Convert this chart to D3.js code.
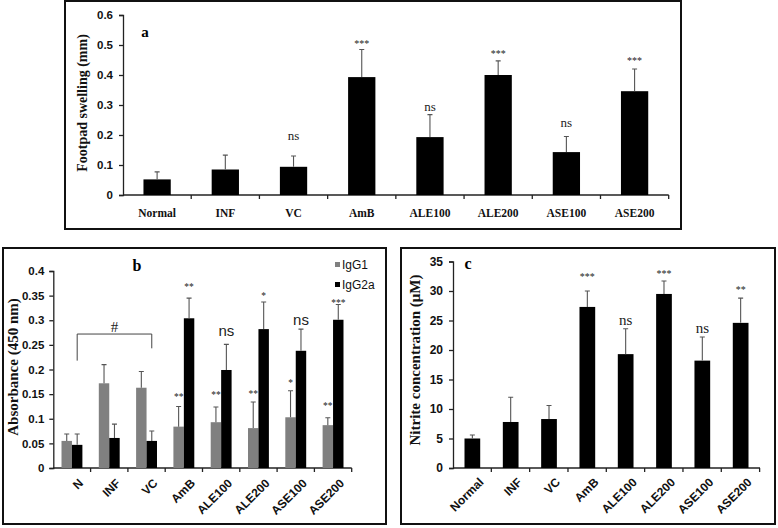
<!DOCTYPE html>
<html><head><meta charset="utf-8">
<script src="https://cdn.jsdelivr.net/npm/d3@7"></script>
<style>body{margin:0;background:#fff}svg{display:block}</style>
</head><body>
<svg id="chart" width="778" height="528"></svg>
<script>
// ---------- DATA ----------
const catsA = ["Normal","INF","VC","AmB","ALE100","ALE200","ASE100","ASE200"];
const swelling = [0.052,0.085,0.094,0.393,0.193,0.400,0.143,0.346];
const swellingErr = [0.025,0.048,0.036,0.092,0.075,0.047,0.052,0.074];
const annotA = ["","","ns","***","ns","***","ns","***"];
const annotALevel = [null,null,0.194,0.511,0.292,0.476,0.236,0.453];
const ticksA = [0,0.1,0.2,0.3,0.4,0.5,0.6];

const catsB = ["N","INF","VC","AmB","ALE100","ALE200","ASE100","ASE200"];
const seriesB = ["IgG1","IgG2a"];
const igg1 = [0.055,0.172,0.163,0.084,0.093,0.081,0.103,0.087];
const igg1Err = [0.014,0.038,0.033,0.041,0.031,0.053,0.054,0.015];
const igg2a = [0.047,0.061,0.055,0.304,0.199,0.282,0.238,0.301];
const igg2aErr = [0.022,0.028,0.020,0.041,0.052,0.055,0.044,0.031];
const annotIgg1 = ["","","","**","**","**","*","**"];
const annotIgg1Level = [null,null,null,0.148,0.153,0.155,0.177,0.129];
const annotIgg2a = ["","","","**","ns","*","ns","***"];
const annotIgg2aLevel = [null,null,null,0.3705,0.276,0.354,0.297,0.339];
const bracketB = {from:"N", to:"VC", top:0.272, leftEnd:0.218, rightEnd:0.243, label:"#", labelLevel:0.2866};
const ticksB = [0,0.05,0.1,0.15,0.2,0.25,0.3,0.35,0.4];

const catsC = ["Normal","INF","VC","AmB","ALE100","ALE200","ASE100","ASE200"];
const nitrite = [5.0,7.8,8.3,27.3,19.3,29.5,18.2,24.6];
const nitriteErr = [0.6,4.2,2.3,2.7,4.3,2.2,4.0,4.2];
const annotC = ["","","","***","ns","***","ns","**"];
const annotCLevel = [null,null,null,32.7,24.9,33.2,23.6,30.6];
const ticksC = [0,5,10,15,20,25,30,35];

// ---------- STYLE ----------
const SERIF = "'Liberation Serif','Times New Roman',serif";
const SANS = "'Liberation Sans',Arial,sans-serif";
const svg = d3.select("#chart");

function box(x0,y0,x1,y1){
  svg.append("rect").attr("x",x0).attr("y",y0).attr("width",x1-x0).attr("height",y1-y0)
    .attr("fill","none").attr("stroke","#111").attr("stroke-width",2);
}

function yAxis(g, y, ticks, x0, fs, fmt, tickGap){
  const ax = d3.axisLeft(y).tickValues(ticks).tickSize(4).tickPadding(tickGap).tickFormat(fmt);
  const a = g.append("g").attr("transform",`translate(${x0},0)`).call(ax);
  a.select(".domain").attr("stroke","#222").attr("stroke-width",1.3);
  a.selectAll(".tick line").attr("stroke","#222").attr("stroke-width",1.3);
  a.selectAll("text").attr("font-family",SANS).attr("font-weight","bold").attr("font-size",fs).attr("fill","#111");
  return a;
}

function xAxisLine(g, x, cats, y0){
  const r = x.range();
  g.append("line").attr("x1",r[0]).attr("x2",r[1]).attr("y1",y0).attr("y2",y0)
    .attr("stroke","#222").attr("stroke-width",1.3);
  const step = x.step();
  const bounds = d3.range(1, cats.length+1).map(i => r[0] + i*step);
  g.selectAll(".xt").data(bounds).join("line")
    .attr("x1",d=>d).attr("x2",d=>d).attr("y1",y0).attr("y2",y0+4)
    .attr("stroke","#222").attr("stroke-width",1.3);
}

function errBars(g, xs, tops, bases, y){
  g.selectAll(null).data(xs.map((x,i)=>({x, t:tops[i], b:bases[i]}))).join("path")
    .attr("d", d => `M${d.x},${y(d.b)}V${y(d.t)}M${d.x-2.5},${y(d.t)}h5`)
    .attr("fill","none").attr("stroke","#555").attr("stroke-width",1.1);
}

function annot(g, xs, labels, levels, y, opts){
  labels.forEach((t,i)=>{
    if(!t) return;
    const isStar = t.indexOf("*")>=0;
    const fs = isStar ? opts.starSize : opts.nsSize;
    const off = isStar ? 0.52*fs : 0.25*fs;
    g.append("text").attr("x",xs[i]).attr("y",y(levels[i])+off)
      .attr("text-anchor","middle")
      .attr("font-family", isStar ? SERIF : opts.nsFont)
      .attr("font-size",fs).attr("fill","#222").text(t);
  });
}

// ---------- PANEL A ----------
(function(){
  box(65,1,681,229);
  const g = svg.append("g");
  const x = d3.scaleBand().domain(catsA).range([123,668.7]).paddingInner(0.6).paddingOuter(0.3);
  const y = d3.scaleLinear().domain([0,0.6]).range([195,15]);
  yAxis(g, y, ticksA, 123, 11.5, d3.format(""), 6);
  xAxisLine(g, x, catsA, 195);
  g.selectAll(".bar").data(swelling).join("rect")
    .attr("x",(d,i)=>x(catsA[i])).attr("width",x.bandwidth())
    .attr("y",d=>y(d)).attr("height",d=>y(0)-y(d)).attr("fill","#000");
  const cx = catsA.map(c=>x(c)+x.bandwidth()/2);
  errBars(g, cx, swelling.map((v,i)=>v+swellingErr[i]), swelling, y);
  annot(g, cx, annotA, annotALevel, y, {starSize:10, nsSize:13, nsFont:SERIF});
  g.selectAll(".xl").data(catsA).join("text")
    .attr("x",c=>x(c)+x.bandwidth()/2).attr("y",217).attr("text-anchor","middle")
    .attr("font-family",SERIF).attr("font-weight","bold").attr("font-size",11.5).attr("fill","#111").text(c=>c);
  g.append("text").attr("transform","translate(87,103) rotate(-90)").attr("text-anchor","middle")
    .attr("font-family",SERIF).attr("font-weight","bold").attr("font-size",14).attr("fill","#111")
    .text("Footpad swelling (mm)");
  g.append("text").attr("x",145).attr("y",37).attr("text-anchor","middle")
    .attr("font-family",SERIF).attr("font-weight","bold").attr("font-size",15).text("a");
})();

// ---------- PANEL B ----------
(function(){
  box(3,248,386,524);
  const g = svg.append("g");
  const x = d3.scaleBand().domain(catsB).range([53.3,351.7]).paddingInner(0.44).paddingOuter(0.22);
  const xs = d3.scaleBand().domain(seriesB).range([0,x.bandwidth()]);
  const y = d3.scaleLinear().domain([0,0.4]).range([468,271]);
  const colors = {IgG1:"#808080", IgG2a:"#000"};
  yAxis(g, y, ticksB, 53.3, 11.5, d3.format(""), 5);
  xAxisLine(g, x, catsB, 468);
  const series = {IgG1:{v:igg1,e:igg1Err}, IgG2a:{v:igg2a,e:igg2aErr}};
  seriesB.forEach(s=>{
    const vals = series[s].v, errs = series[s].e;
    g.selectAll(null).data(vals).join("rect")
      .attr("x",(d,i)=>x(catsB[i])+xs(s)).attr("width",xs.bandwidth())
      .attr("y",d=>y(d)).attr("height",d=>y(0)-y(d)).attr("fill",colors[s]);
    const cx = catsB.map(c=>x(c)+xs(s)+xs.bandwidth()/2);
    errBars(g, cx, vals.map((v,i)=>v+errs[i]), vals, y);
  });
  const cx1 = catsB.map(c=>x(c)+xs("IgG1")+xs.bandwidth()/2);
  const cx2 = catsB.map(c=>x(c)+xs("IgG2a")+xs.bandwidth()/2);
  annot(g, cx1, annotIgg1, annotIgg1Level, y, {starSize:9.5, nsSize:15, nsFont:SANS});
  annot(g, cx2, annotIgg2a, annotIgg2aLevel, y, {starSize:9.5, nsSize:15, nsFont:SANS});
  // bracket
  const bx0 = x(bracketB.from)+xs("IgG2a")+xs.bandwidth()/2;
  const bx1 = x(bracketB.to)+xs("IgG2a")+xs.bandwidth()/2;
  g.append("path").attr("d",`M${bx0},${y(bracketB.leftEnd)}V${y(bracketB.top)}H${bx1}V${y(bracketB.rightEnd)}`)
    .attr("fill","none").attr("stroke","#444").attr("stroke-width",1);
  g.append("text").attr("x",(bx0+bx1)/2).attr("y",y(bracketB.labelLevel)+5).attr("text-anchor","middle")
    .attr("font-family",SERIF).attr("font-size",15).attr("fill","#222").text(bracketB.label);
  // x labels
  g.selectAll(".xl").data(catsB).join("text")
    .attr("transform",c=>`translate(${x(c)+x.bandwidth()/2+6},${478}) rotate(-45)`)
    .attr("text-anchor","end").attr("dy","0.7em")
    .attr("font-family",SANS).attr("font-weight","bold").attr("font-size",12).attr("fill","#111").text(c=>c);
  // legend
  const lg = g.append("g");
  seriesB.forEach((s,i)=>{
    const ly = 265 + i*20;
    lg.append("rect").attr("x",335).attr("y",ly-3).attr("width",5).attr("height",5).attr("fill",colors[s]);
    lg.append("text").attr("x",342).attr("y",ly+4).attr("font-family",SANS).attr("font-size",12)
      .attr("fill","#111").text(s);
  });
  g.append("text").attr("transform","translate(18,367) rotate(-90)").attr("text-anchor","middle")
    .attr("font-family",SERIF).attr("font-weight","bold").attr("font-size",15).attr("fill","#111")
    .text("Absorbance (450 nm)");
  g.append("text").attr("x",137).attr("y",271).attr("text-anchor","middle")
    .attr("font-family",SERIF).attr("font-weight","bold").attr("font-size",16).text("b");
})();

// ---------- PANEL C ----------
(function(){
  box(401,248,775,524);
  const g = svg.append("g");
  const x = d3.scaleBand().domain(catsC).range([453,760]).paddingInner(0.59).paddingOuter(0.3);
  const y = d3.scaleLinear().domain([0,35]).range([468,261.5]);
  yAxis(g, y, ticksC, 453, 12, d3.format(""), 6);
  xAxisLine(g, x, catsC, 468);
  g.selectAll(".bar").data(nitrite).join("rect")
    .attr("x",(d,i)=>x(catsC[i])).attr("width",x.bandwidth())
    .attr("y",d=>y(d)).attr("height",d=>y(0)-y(d)).attr("fill","#000");
  const cx = catsC.map(c=>x(c)+x.bandwidth()/2);
  errBars(g, cx, nitrite.map((v,i)=>v+nitriteErr[i]), nitrite, y);
  annot(g, cx, annotC, annotCLevel, y, {starSize:10, nsSize:15, nsFont:SERIF});
  g.selectAll(".xl").data(catsC).join("text")
    .attr("transform",c=>`translate(${x(c)+x.bandwidth()/2+6},${477}) rotate(-45)`)
    .attr("text-anchor","end").attr("dy","0.7em")
    .attr("font-family",SANS).attr("font-weight","bold").attr("font-size",12).attr("fill","#111").text(c=>c);
  g.append("text").attr("transform","translate(420,360) rotate(-90)").attr("text-anchor","middle")
    .attr("font-family",SERIF).attr("font-weight","bold").attr("font-size",15).attr("fill","#111")
    .text("Nitrite concentration (μM)");
  g.append("text").attr("x",468).attr("y",269).attr("text-anchor","middle")
    .attr("font-family",SERIF).attr("font-weight","bold").attr("font-size",16).text("c");
})();
</script>
</body></html>
